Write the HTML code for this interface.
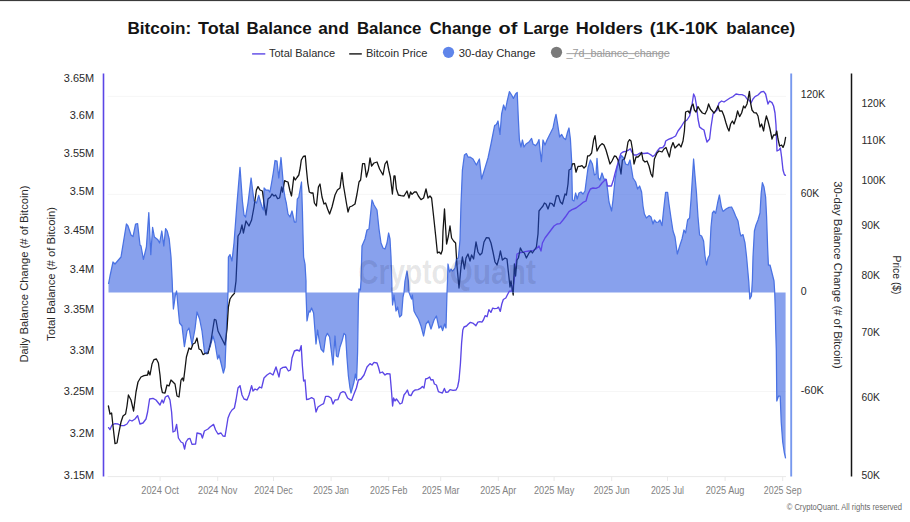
<!DOCTYPE html>
<html><head><meta charset="utf-8"><title>Bitcoin: Total Balance and Balance Change of Large Holders</title>
<style>
html,body{margin:0;padding:0;background:#fff;}
body{width:910px;height:522px;overflow:hidden;font-family:"Liberation Sans",sans-serif;}
svg{display:block;}
</style></head><body>
<svg width="910" height="522" viewBox="0 0 910 522" font-family="Liberation Sans, sans-serif">
<rect x="0" y="0" width="910" height="522" fill="#ffffff"/>
<rect x="0" y="0" width="910" height="1.1" fill="#3a3a3a"/>
<line x1="107.6" x2="786" y1="96.4" y2="96.4" stroke="#f6f6f6" stroke-width="1"/>
<line x1="107.6" x2="786" y1="194.4" y2="194.4" stroke="#f6f6f6" stroke-width="1"/>
<line x1="107.6" x2="786" y1="391.5" y2="391.5" stroke="#f6f6f6" stroke-width="1"/>
<line x1="107.6" x2="786" y1="476.6" y2="476.6" stroke="#e9e9e9" stroke-width="1"/>
<line x1="160.1" x2="160.1" y1="476.6" y2="481" stroke="#e9e9e9" stroke-width="1"/>
<text x="160.1" y="494.3" font-size="10" font-weight="normal" text-anchor="middle" fill="#828282" textLength="37.6" lengthAdjust="spacingAndGlyphs" >2024 Oct</text>
<line x1="217.7" x2="217.7" y1="476.6" y2="481" stroke="#e9e9e9" stroke-width="1"/>
<text x="217.7" y="494.3" font-size="10" font-weight="normal" text-anchor="middle" fill="#828282" textLength="39.2" lengthAdjust="spacingAndGlyphs" >2024 Nov</text>
<line x1="273.5" x2="273.5" y1="476.6" y2="481" stroke="#e9e9e9" stroke-width="1"/>
<text x="273.5" y="494.3" font-size="10" font-weight="normal" text-anchor="middle" fill="#828282" textLength="38.3" lengthAdjust="spacingAndGlyphs" >2024 Dec</text>
<line x1="331.1" x2="331.1" y1="476.6" y2="481" stroke="#e9e9e9" stroke-width="1"/>
<text x="331.1" y="494.3" font-size="10" font-weight="normal" text-anchor="middle" fill="#828282" textLength="35.6" lengthAdjust="spacingAndGlyphs" >2025 Jan</text>
<line x1="388.7" x2="388.7" y1="476.6" y2="481" stroke="#e9e9e9" stroke-width="1"/>
<text x="388.7" y="494.3" font-size="10" font-weight="normal" text-anchor="middle" fill="#828282" textLength="37.2" lengthAdjust="spacingAndGlyphs" >2025 Feb</text>
<line x1="440.7" x2="440.7" y1="476.6" y2="481" stroke="#e9e9e9" stroke-width="1"/>
<text x="440.7" y="494.3" font-size="10" font-weight="normal" text-anchor="middle" fill="#828282" textLength="37.6" lengthAdjust="spacingAndGlyphs" >2025 Mar</text>
<line x1="498.3" x2="498.3" y1="476.6" y2="481" stroke="#e9e9e9" stroke-width="1"/>
<text x="498.3" y="494.3" font-size="10" font-weight="normal" text-anchor="middle" fill="#828282" textLength="36.1" lengthAdjust="spacingAndGlyphs" >2025 Apr</text>
<line x1="554.1" x2="554.1" y1="476.6" y2="481" stroke="#e9e9e9" stroke-width="1"/>
<text x="554.1" y="494.3" font-size="10" font-weight="normal" text-anchor="middle" fill="#828282" textLength="40.3" lengthAdjust="spacingAndGlyphs" >2025 May</text>
<line x1="611.7" x2="611.7" y1="476.6" y2="481" stroke="#e9e9e9" stroke-width="1"/>
<text x="611.7" y="494.3" font-size="10" font-weight="normal" text-anchor="middle" fill="#828282" textLength="36.0" lengthAdjust="spacingAndGlyphs" >2025 Jun</text>
<line x1="667.5" x2="667.5" y1="476.6" y2="481" stroke="#e9e9e9" stroke-width="1"/>
<text x="667.5" y="494.3" font-size="10" font-weight="normal" text-anchor="middle" fill="#828282" textLength="33.1" lengthAdjust="spacingAndGlyphs" >2025 Jul</text>
<line x1="725.1" x2="725.1" y1="476.6" y2="481" stroke="#e9e9e9" stroke-width="1"/>
<text x="725.1" y="494.3" font-size="10" font-weight="normal" text-anchor="middle" fill="#828282" textLength="38.7" lengthAdjust="spacingAndGlyphs" >2025 Aug</text>
<line x1="782.7" x2="782.7" y1="476.6" y2="481" stroke="#e9e9e9" stroke-width="1"/>
<text x="782.7" y="494.3" font-size="10" font-weight="normal" text-anchor="middle" fill="#828282" textLength="37.7" lengthAdjust="spacingAndGlyphs" >2025 Sep</text>
<polygon points="108.5,292.5 108.5,284.0 110.0,276.0 113.0,262.0 115.0,264.0 121.0,257.0 126.4,224.0 128.0,226.0 131.0,235.0 133.0,236.6 135.6,224.0 137.6,223.6 140.0,245.0 141.0,246.0 143.4,259.4 146.4,247.0 148.8,212.6 150.8,254.6 152.6,227.4 154.4,237.0 157.6,239.4 159.6,243.0 161.8,231.0 163.8,246.0 165.6,228.6 167.2,231.0 169.2,239.0 171.0,257.0 172.2,281.0 172.6,292.4 173.4,309.0 175.4,295.0 176.6,291.0 178.4,311.0 179.6,323.0 182.0,326.0 184.4,346.6 187.0,331.0 189.0,328.0 192.0,345.0 195.0,329.0 197.0,312.0 199.6,319.0 202.0,331.0 204.6,353.0 207.0,354.0 210.0,347.0 213.0,336.0 215.0,343.0 217.6,359.0 219.0,355.0 221.0,363.0 223.4,373.0 225.0,367.0 226.4,331.0 227.6,301.0 228.0,292.4 228.4,257.0 230.0,254.6 232.0,261.0 234.0,243.0 237.0,203.0 240.0,167.4 242.4,201.0 244.0,215.0 245.6,217.0 248.0,203.0 251.1,178.0 254.0,201.0 256.5,203.0 258.7,195.4 260.5,202.0 262.0,207.0 263.4,210.0 264.1,188.0 265.9,190.0 268.4,190.0 269.9,192.0 271.4,184.0 273.4,172.0 275.0,160.5 277.0,161.2 278.8,178.0 281.0,157.5 282.3,172.0 283.8,190.0 285.3,199.0 286.3,203.0 288.0,214.0 290.0,217.0 292.0,211.0 294.4,222.0 296.0,222.0 297.3,199.0 298.8,197.0 301.5,182.0 302.4,210.0 303.0,235.0 303.6,257.0 305.0,264.0 306.0,281.0 306.0,292.4 307.0,321.0 309.0,311.0 310.0,312.0 311.6,308.0 313.6,313.0 316.0,344.0 317.6,330.0 319.0,339.0 321.0,349.0 323.6,352.0 325.6,337.0 327.4,333.4 329.6,337.0 333.0,365.0 335.0,336.0 336.4,356.0 338.0,357.0 340.0,347.0 342.0,341.0 344.0,333.4 345.6,335.0 347.0,358.0 348.4,376.0 350.0,388.0 351.0,393.0 354.0,382.0 355.4,374.0 356.6,380.0 357.6,352.0 358.4,301.0 359.0,289.0 360.4,290.0 361.0,281.0 362.0,246.0 365.0,239.0 367.0,230.0 369.0,229.0 372.0,200.0 374.0,205.0 377.0,210.0 379.0,229.0 381.0,243.0 383.0,248.0 385.0,249.0 387.0,243.0 388.6,233.0 390.0,239.0 391.0,257.0 391.8,281.0 392.0,292.4 392.6,305.0 394.0,295.0 396.0,311.0 397.6,307.0 399.6,317.0 401.6,315.0 403.0,297.0 404.0,292.4 405.0,281.0 407.0,271.0 408.4,281.0 409.0,292.4 410.0,295.0 411.6,299.0 412.4,295.0 414.0,311.0 416.0,315.0 418.4,319.0 421.0,326.0 423.6,336.0 426.0,324.0 428.4,321.0 431.0,329.0 434.0,320.0 436.4,316.0 439.0,328.0 441.0,326.0 442.6,330.6 444.6,324.0 446.0,328.0 447.0,292.4 447.5,281.0 448.0,264.0 449.6,272.0 451.0,269.0 452.4,271.0 453.6,270.0 455.0,268.0 456.4,259.0 458.4,258.0 460.0,240.0 461.0,204.0 462.4,170.0 464.4,155.0 466.4,153.6 468.0,157.0 470.0,157.0 473.0,159.0 476.4,165.0 479.4,159.0 481.6,179.0 485.0,168.0 488.0,158.0 491.0,144.0 494.6,125.6 496.4,124.4 498.0,121.0 500.0,134.4 501.6,114.0 503.6,105.0 505.4,110.0 507.0,102.0 509.4,91.6 511.6,95.0 513.4,98.4 515.6,94.0 517.2,92.4 518.4,120.0 519.4,140.0 521.0,147.0 522.4,140.0 524.0,147.0 526.0,144.0 529.0,142.0 531.6,138.4 533.0,144.0 535.6,145.6 537.6,143.0 539.0,139.6 540.0,150.0 541.4,161.6 543.0,140.0 545.0,145.0 547.0,140.0 550.0,134.0 553.0,128.0 554.6,120.0 556.0,114.4 557.6,124.0 559.6,137.0 561.6,134.4 563.6,138.0 565.6,139.6 567.6,132.0 569.0,128.0 570.4,139.0 571.6,160.0 572.4,200.0 574.0,201.0 575.6,193.0 577.2,199.0 579.0,193.0 581.0,192.0 583.0,194.0 585.0,191.0 586.4,180.0 588.0,168.0 590.4,160.0 592.4,164.0 594.4,175.0 596.0,174.0 597.0,158.4 598.4,178.0 600.0,180.0 602.0,173.0 604.0,179.0 606.0,179.0 607.6,190.0 609.0,202.0 611.6,211.0 613.0,200.0 615.0,180.0 617.0,168.0 619.0,160.0 621.6,155.6 623.6,158.0 625.6,164.0 628.0,165.0 630.0,160.0 631.4,168.0 633.0,178.0 635.6,182.0 637.6,189.0 639.6,186.0 641.6,192.0 643.0,206.0 644.4,214.0 646.4,218.0 649.0,215.6 651.0,217.0 653.0,224.0 654.4,220.0 656.4,222.4 658.4,222.0 660.0,220.0 662.0,225.6 663.6,210.0 665.6,192.4 667.6,192.4 669.0,204.0 671.0,218.0 673.0,231.0 675.0,237.0 677.3,254.0 680.0,245.0 682.0,239.0 684.0,230.0 685.6,233.0 687.6,220.0 689.6,218.0 691.0,200.0 692.4,178.0 693.6,159.0 695.0,176.0 696.4,192.0 698.0,217.0 699.6,235.0 701.6,236.0 703.6,241.0 705.0,256.0 706.6,265.0 708.0,258.0 709.6,255.0 711.0,227.0 712.4,213.0 714.0,211.0 715.6,213.4 717.6,203.0 719.4,195.0 721.4,207.0 723.0,211.4 726.0,209.0 729.0,207.4 731.6,207.0 733.6,211.0 735.6,216.0 738.0,221.0 740.0,233.0 741.0,236.0 743.0,234.6 745.0,243.0 746.6,257.0 748.0,273.0 748.8,282.0 749.8,299.0 751.4,296.0 752.4,280.0 753.0,257.0 754.4,231.0 756.0,225.0 758.0,220.0 760.0,213.0 761.2,193.0 762.4,182.6 764.0,187.0 765.6,197.0 766.6,217.0 767.6,247.0 768.4,265.0 770.0,265.0 772.0,273.0 774.0,281.0 774.7,292.3 775.3,310.0 775.7,330.0 776.3,350.0 776.6,380.0 776.8,401.0 778.5,396.0 780.2,396.0 781.2,422.0 782.7,442.0 784.2,452.0 785.6,458.4 785.6,292.5" fill="rgb(60,102,226)" fill-opacity="0.61" stroke="none"/>
<polyline points="108.5,284.0 110.0,276.0 113.0,262.0 115.0,264.0 121.0,257.0 126.4,224.0 128.0,226.0 131.0,235.0 133.0,236.6 135.6,224.0 137.6,223.6 140.0,245.0 141.0,246.0 143.4,259.4 146.4,247.0 148.8,212.6 150.8,254.6 152.6,227.4 154.4,237.0 157.6,239.4 159.6,243.0 161.8,231.0 163.8,246.0 165.6,228.6 167.2,231.0 169.2,239.0 171.0,257.0 172.2,281.0 172.6,292.4 173.4,309.0 175.4,295.0 176.6,291.0 178.4,311.0 179.6,323.0 182.0,326.0 184.4,346.6 187.0,331.0 189.0,328.0 192.0,345.0 195.0,329.0 197.0,312.0 199.6,319.0 202.0,331.0 204.6,353.0 207.0,354.0 210.0,347.0 213.0,336.0 215.0,343.0 217.6,359.0 219.0,355.0 221.0,363.0 223.4,373.0 225.0,367.0 226.4,331.0 227.6,301.0 228.0,292.4 228.4,257.0 230.0,254.6 232.0,261.0 234.0,243.0 237.0,203.0 240.0,167.4 242.4,201.0 244.0,215.0 245.6,217.0 248.0,203.0 251.1,178.0 254.0,201.0 256.5,203.0 258.7,195.4 260.5,202.0 262.0,207.0 263.4,210.0 264.1,188.0 265.9,190.0 268.4,190.0 269.9,192.0 271.4,184.0 273.4,172.0 275.0,160.5 277.0,161.2 278.8,178.0 281.0,157.5 282.3,172.0 283.8,190.0 285.3,199.0 286.3,203.0 288.0,214.0 290.0,217.0 292.0,211.0 294.4,222.0 296.0,222.0 297.3,199.0 298.8,197.0 301.5,182.0 302.4,210.0 303.0,235.0 303.6,257.0 305.0,264.0 306.0,281.0 306.0,292.4 307.0,321.0 309.0,311.0 310.0,312.0 311.6,308.0 313.6,313.0 316.0,344.0 317.6,330.0 319.0,339.0 321.0,349.0 323.6,352.0 325.6,337.0 327.4,333.4 329.6,337.0 333.0,365.0 335.0,336.0 336.4,356.0 338.0,357.0 340.0,347.0 342.0,341.0 344.0,333.4 345.6,335.0 347.0,358.0 348.4,376.0 350.0,388.0 351.0,393.0 354.0,382.0 355.4,374.0 356.6,380.0 357.6,352.0 358.4,301.0 359.0,289.0 360.4,290.0 361.0,281.0 362.0,246.0 365.0,239.0 367.0,230.0 369.0,229.0 372.0,200.0 374.0,205.0 377.0,210.0 379.0,229.0 381.0,243.0 383.0,248.0 385.0,249.0 387.0,243.0 388.6,233.0 390.0,239.0 391.0,257.0 391.8,281.0 392.0,292.4 392.6,305.0 394.0,295.0 396.0,311.0 397.6,307.0 399.6,317.0 401.6,315.0 403.0,297.0 404.0,292.4 405.0,281.0 407.0,271.0 408.4,281.0 409.0,292.4 410.0,295.0 411.6,299.0 412.4,295.0 414.0,311.0 416.0,315.0 418.4,319.0 421.0,326.0 423.6,336.0 426.0,324.0 428.4,321.0 431.0,329.0 434.0,320.0 436.4,316.0 439.0,328.0 441.0,326.0 442.6,330.6 444.6,324.0 446.0,328.0 447.0,292.4 447.5,281.0 448.0,264.0 449.6,272.0 451.0,269.0 452.4,271.0 453.6,270.0 455.0,268.0 456.4,259.0 458.4,258.0 460.0,240.0 461.0,204.0 462.4,170.0 464.4,155.0 466.4,153.6 468.0,157.0 470.0,157.0 473.0,159.0 476.4,165.0 479.4,159.0 481.6,179.0 485.0,168.0 488.0,158.0 491.0,144.0 494.6,125.6 496.4,124.4 498.0,121.0 500.0,134.4 501.6,114.0 503.6,105.0 505.4,110.0 507.0,102.0 509.4,91.6 511.6,95.0 513.4,98.4 515.6,94.0 517.2,92.4 518.4,120.0 519.4,140.0 521.0,147.0 522.4,140.0 524.0,147.0 526.0,144.0 529.0,142.0 531.6,138.4 533.0,144.0 535.6,145.6 537.6,143.0 539.0,139.6 540.0,150.0 541.4,161.6 543.0,140.0 545.0,145.0 547.0,140.0 550.0,134.0 553.0,128.0 554.6,120.0 556.0,114.4 557.6,124.0 559.6,137.0 561.6,134.4 563.6,138.0 565.6,139.6 567.6,132.0 569.0,128.0 570.4,139.0 571.6,160.0 572.4,200.0 574.0,201.0 575.6,193.0 577.2,199.0 579.0,193.0 581.0,192.0 583.0,194.0 585.0,191.0 586.4,180.0 588.0,168.0 590.4,160.0 592.4,164.0 594.4,175.0 596.0,174.0 597.0,158.4 598.4,178.0 600.0,180.0 602.0,173.0 604.0,179.0 606.0,179.0 607.6,190.0 609.0,202.0 611.6,211.0 613.0,200.0 615.0,180.0 617.0,168.0 619.0,160.0 621.6,155.6 623.6,158.0 625.6,164.0 628.0,165.0 630.0,160.0 631.4,168.0 633.0,178.0 635.6,182.0 637.6,189.0 639.6,186.0 641.6,192.0 643.0,206.0 644.4,214.0 646.4,218.0 649.0,215.6 651.0,217.0 653.0,224.0 654.4,220.0 656.4,222.4 658.4,222.0 660.0,220.0 662.0,225.6 663.6,210.0 665.6,192.4 667.6,192.4 669.0,204.0 671.0,218.0 673.0,231.0 675.0,237.0 677.3,254.0 680.0,245.0 682.0,239.0 684.0,230.0 685.6,233.0 687.6,220.0 689.6,218.0 691.0,200.0 692.4,178.0 693.6,159.0 695.0,176.0 696.4,192.0 698.0,217.0 699.6,235.0 701.6,236.0 703.6,241.0 705.0,256.0 706.6,265.0 708.0,258.0 709.6,255.0 711.0,227.0 712.4,213.0 714.0,211.0 715.6,213.4 717.6,203.0 719.4,195.0 721.4,207.0 723.0,211.4 726.0,209.0 729.0,207.4 731.6,207.0 733.6,211.0 735.6,216.0 738.0,221.0 740.0,233.0 741.0,236.0 743.0,234.6 745.0,243.0 746.6,257.0 748.0,273.0 748.8,282.0 749.8,299.0 751.4,296.0 752.4,280.0 753.0,257.0 754.4,231.0 756.0,225.0 758.0,220.0 760.0,213.0 761.2,193.0 762.4,182.6 764.0,187.0 765.6,197.0 766.6,217.0 767.6,247.0 768.4,265.0 770.0,265.0 772.0,273.0 774.0,281.0 774.7,292.3 775.3,310.0 775.7,330.0 776.3,350.0 776.6,380.0 776.8,401.0 778.5,396.0 780.2,396.0 781.2,422.0 782.7,442.0 784.2,452.0 785.6,458.4" fill="none" stroke="#4a72e3" stroke-width="1.25" stroke-linejoin="round"/>
<polyline points="108.6,427.6 110.0,429.6 112.0,425.0 115.0,423.6 118.0,424.0 121.0,425.6 124.0,425.6 127.0,424.0 129.6,420.0 132.0,421.0 135.0,419.0 137.6,415.6 140.0,424.0 143.0,423.0 146.0,419.0 147.6,412.0 149.6,399.0 153.0,398.4 156.0,400.0 158.4,403.0 160.0,405.0 162.0,400.0 163.4,403.0 165.4,397.0 168.0,395.6 170.0,400.0 171.6,412.0 173.0,432.0 175.0,431.0 176.6,424.4 178.4,438.0 181.0,442.0 183.0,443.0 184.6,449.0 186.0,442.0 188.0,439.0 190.0,438.4 192.0,444.4 195.6,444.0 197.0,433.0 201.0,434.0 202.4,438.0 204.4,431.0 208.0,429.0 210.0,427.0 213.6,424.4 215.6,430.0 218.0,434.0 221.0,433.0 223.0,436.0 225.0,436.4 226.4,428.0 228.0,418.0 230.0,413.0 232.0,410.0 234.4,408.0 236.0,400.0 238.0,388.0 240.0,385.6 242.0,395.0 244.0,399.0 247.0,400.0 249.0,395.0 251.6,385.6 253.0,391.0 255.0,389.0 257.0,390.0 259.6,387.0 261.6,388.0 264.0,378.0 267.0,375.0 270.0,373.0 273.0,375.0 276.0,367.0 279.0,377.0 280.4,369.0 283.0,367.4 286.0,367.0 288.4,371.0 290.4,370.0 292.0,358.0 294.4,351.0 297.0,350.0 299.6,351.0 301.2,345.6 302.4,366.0 303.6,381.0 305.0,380.0 306.6,399.6 309.0,399.0 311.6,397.6 314.0,399.0 316.0,412.0 318.0,407.0 321.0,405.0 323.6,403.6 325.6,396.4 328.4,396.4 331.0,398.0 333.0,404.0 335.0,400.0 338.0,399.6 340.4,393.0 343.0,391.6 345.0,392.4 347.6,398.0 350.0,399.6 351.6,400.4 354.0,394.0 356.4,388.0 358.4,380.0 361.0,379.0 364.0,375.0 367.0,367.0 370.0,363.6 372.0,365.0 374.0,362.4 377.0,363.0 378.4,367.0 380.0,373.0 382.4,372.0 385.0,375.0 387.0,373.6 390.0,374.0 391.4,390.0 392.6,406.0 393.6,398.0 395.0,401.0 396.4,399.0 398.0,401.0 400.0,404.0 402.0,403.0 404.0,395.0 406.0,392.4 407.4,390.0 409.0,395.0 411.0,395.6 413.0,391.6 415.0,390.0 418.0,389.6 420.4,388.4 422.4,386.4 424.0,388.0 425.6,379.0 427.6,378.4 429.6,377.0 431.0,380.0 433.0,379.6 434.4,384.0 436.4,385.0 438.4,391.6 440.4,392.4 442.4,393.0 444.4,388.4 446.0,392.4 448.0,392.0 450.0,389.6 453.0,390.4 456.0,390.0 457.6,387.0 459.0,380.0 460.4,364.0 461.6,343.0 462.8,330.0 464.0,327.0 466.5,326.0 468.4,324.0 470.4,322.4 473.4,323.4 475.9,325.7 477.9,322.1 479.9,321.7 481.9,322.1 483.4,320.0 485.1,315.7 487.1,316.7 488.9,309.7 490.9,312.4 492.7,308.1 494.4,308.7 496.9,308.4 498.4,307.1 500.3,311.4 501.8,304.0 503.3,299.5 505.8,298.0 507.3,295.0 509.3,291.2 511.8,291.0 513.6,284.0 515.6,268.0 517.0,254.0 519.0,253.0 522.0,252.4 525.0,251.6 529.0,251.0 532.0,251.0 536.0,249.0 539.0,246.0 541.0,251.0 542.4,243.0 545.0,238.0 548.0,234.0 551.0,230.0 554.0,226.0 557.0,224.0 560.0,223.6 563.0,220.0 566.0,216.0 569.0,211.6 572.0,209.6 576.0,208.0 580.0,205.0 583.0,202.4 586.0,201.0 588.0,194.0 590.4,189.0 593.0,188.0 596.0,188.4 599.0,187.0 602.0,183.0 605.0,180.0 606.3,179.7 607.4,186.0 611.4,186.0 613.4,180.0 615.4,172.0 617.4,165.0 619.4,158.0 620.9,153.5 622.9,152.0 626.4,151.2 628.9,149.8 630.3,148.8 631.8,152.0 633.8,155.0 636.8,155.0 639.8,153.2 643.8,153.5 647.8,153.0 650.8,154.8 652.8,156.5 654.8,155.0 657.3,151.0 659.8,148.0 662.8,147.5 664.7,145.0 665.7,141.0 668.4,139.4 672.0,138.0 675.6,136.0 678.0,131.0 681.0,127.0 684.0,122.0 687.0,120.0 689.6,116.0 692.0,105.0 693.6,94.0 695.0,97.0 696.4,105.0 698.0,119.0 699.6,127.0 701.6,128.6 704.0,130.0 705.6,137.0 707.0,142.0 709.6,139.0 711.0,127.0 713.0,114.0 715.0,112.0 717.0,110.0 719.0,103.0 721.6,101.0 724.0,102.0 727.0,100.0 730.0,98.0 733.0,96.6 736.0,94.0 739.0,94.6 742.0,94.6 745.0,96.0 747.0,99.0 749.0,100.0 751.0,103.0 753.0,99.0 755.0,96.6 758.0,95.0 761.0,92.0 763.6,91.4 765.6,94.0 767.0,100.0 768.0,104.0 769.6,101.0 772.0,102.6 773.6,106.0 775.0,113.0 776.0,125.0 777.0,151.0 779.0,150.0 780.4,148.0 781.6,157.0 783.0,170.0 784.4,174.6 785.4,175.4" fill="none" stroke="#5b46e6" stroke-width="1.35" stroke-linejoin="round" stroke-linecap="round"/>
<clipPath id="ac"><path d="M108.5,292.5 L108.5,284.0 L110.0,276.0 L113.0,262.0 L115.0,264.0 L121.0,257.0 L126.4,224.0 L128.0,226.0 L131.0,235.0 L133.0,236.6 L135.6,224.0 L137.6,223.6 L140.0,245.0 L141.0,246.0 L143.4,259.4 L146.4,247.0 L148.8,212.6 L150.8,254.6 L152.6,227.4 L154.4,237.0 L157.6,239.4 L159.6,243.0 L161.8,231.0 L163.8,246.0 L165.6,228.6 L167.2,231.0 L169.2,239.0 L171.0,257.0 L172.2,281.0 L172.6,292.4 L173.4,309.0 L175.4,295.0 L176.6,291.0 L178.4,311.0 L179.6,323.0 L182.0,326.0 L184.4,346.6 L187.0,331.0 L189.0,328.0 L192.0,345.0 L195.0,329.0 L197.0,312.0 L199.6,319.0 L202.0,331.0 L204.6,353.0 L207.0,354.0 L210.0,347.0 L213.0,336.0 L215.0,343.0 L217.6,359.0 L219.0,355.0 L221.0,363.0 L223.4,373.0 L225.0,367.0 L226.4,331.0 L227.6,301.0 L228.0,292.4 L228.4,257.0 L230.0,254.6 L232.0,261.0 L234.0,243.0 L237.0,203.0 L240.0,167.4 L242.4,201.0 L244.0,215.0 L245.6,217.0 L248.0,203.0 L251.1,178.0 L254.0,201.0 L256.5,203.0 L258.7,195.4 L260.5,202.0 L262.0,207.0 L263.4,210.0 L264.1,188.0 L265.9,190.0 L268.4,190.0 L269.9,192.0 L271.4,184.0 L273.4,172.0 L275.0,160.5 L277.0,161.2 L278.8,178.0 L281.0,157.5 L282.3,172.0 L283.8,190.0 L285.3,199.0 L286.3,203.0 L288.0,214.0 L290.0,217.0 L292.0,211.0 L294.4,222.0 L296.0,222.0 L297.3,199.0 L298.8,197.0 L301.5,182.0 L302.4,210.0 L303.0,235.0 L303.6,257.0 L305.0,264.0 L306.0,281.0 L306.0,292.4 L307.0,321.0 L309.0,311.0 L310.0,312.0 L311.6,308.0 L313.6,313.0 L316.0,344.0 L317.6,330.0 L319.0,339.0 L321.0,349.0 L323.6,352.0 L325.6,337.0 L327.4,333.4 L329.6,337.0 L333.0,365.0 L335.0,336.0 L336.4,356.0 L338.0,357.0 L340.0,347.0 L342.0,341.0 L344.0,333.4 L345.6,335.0 L347.0,358.0 L348.4,376.0 L350.0,388.0 L351.0,393.0 L354.0,382.0 L355.4,374.0 L356.6,380.0 L357.6,352.0 L358.4,301.0 L359.0,289.0 L360.4,290.0 L361.0,281.0 L362.0,246.0 L365.0,239.0 L367.0,230.0 L369.0,229.0 L372.0,200.0 L374.0,205.0 L377.0,210.0 L379.0,229.0 L381.0,243.0 L383.0,248.0 L385.0,249.0 L387.0,243.0 L388.6,233.0 L390.0,239.0 L391.0,257.0 L391.8,281.0 L392.0,292.4 L392.6,305.0 L394.0,295.0 L396.0,311.0 L397.6,307.0 L399.6,317.0 L401.6,315.0 L403.0,297.0 L404.0,292.4 L405.0,281.0 L407.0,271.0 L408.4,281.0 L409.0,292.4 L410.0,295.0 L411.6,299.0 L412.4,295.0 L414.0,311.0 L416.0,315.0 L418.4,319.0 L421.0,326.0 L423.6,336.0 L426.0,324.0 L428.4,321.0 L431.0,329.0 L434.0,320.0 L436.4,316.0 L439.0,328.0 L441.0,326.0 L442.6,330.6 L444.6,324.0 L446.0,328.0 L447.0,292.4 L447.5,281.0 L448.0,264.0 L449.6,272.0 L451.0,269.0 L452.4,271.0 L453.6,270.0 L455.0,268.0 L456.4,259.0 L458.4,258.0 L460.0,240.0 L461.0,204.0 L462.4,170.0 L464.4,155.0 L466.4,153.6 L468.0,157.0 L470.0,157.0 L473.0,159.0 L476.4,165.0 L479.4,159.0 L481.6,179.0 L485.0,168.0 L488.0,158.0 L491.0,144.0 L494.6,125.6 L496.4,124.4 L498.0,121.0 L500.0,134.4 L501.6,114.0 L503.6,105.0 L505.4,110.0 L507.0,102.0 L509.4,91.6 L511.6,95.0 L513.4,98.4 L515.6,94.0 L517.2,92.4 L518.4,120.0 L519.4,140.0 L521.0,147.0 L522.4,140.0 L524.0,147.0 L526.0,144.0 L529.0,142.0 L531.6,138.4 L533.0,144.0 L535.6,145.6 L537.6,143.0 L539.0,139.6 L540.0,150.0 L541.4,161.6 L543.0,140.0 L545.0,145.0 L547.0,140.0 L550.0,134.0 L553.0,128.0 L554.6,120.0 L556.0,114.4 L557.6,124.0 L559.6,137.0 L561.6,134.4 L563.6,138.0 L565.6,139.6 L567.6,132.0 L569.0,128.0 L570.4,139.0 L571.6,160.0 L572.4,200.0 L574.0,201.0 L575.6,193.0 L577.2,199.0 L579.0,193.0 L581.0,192.0 L583.0,194.0 L585.0,191.0 L586.4,180.0 L588.0,168.0 L590.4,160.0 L592.4,164.0 L594.4,175.0 L596.0,174.0 L597.0,158.4 L598.4,178.0 L600.0,180.0 L602.0,173.0 L604.0,179.0 L606.0,179.0 L607.6,190.0 L609.0,202.0 L611.6,211.0 L613.0,200.0 L615.0,180.0 L617.0,168.0 L619.0,160.0 L621.6,155.6 L623.6,158.0 L625.6,164.0 L628.0,165.0 L630.0,160.0 L631.4,168.0 L633.0,178.0 L635.6,182.0 L637.6,189.0 L639.6,186.0 L641.6,192.0 L643.0,206.0 L644.4,214.0 L646.4,218.0 L649.0,215.6 L651.0,217.0 L653.0,224.0 L654.4,220.0 L656.4,222.4 L658.4,222.0 L660.0,220.0 L662.0,225.6 L663.6,210.0 L665.6,192.4 L667.6,192.4 L669.0,204.0 L671.0,218.0 L673.0,231.0 L675.0,237.0 L677.3,254.0 L680.0,245.0 L682.0,239.0 L684.0,230.0 L685.6,233.0 L687.6,220.0 L689.6,218.0 L691.0,200.0 L692.4,178.0 L693.6,159.0 L695.0,176.0 L696.4,192.0 L698.0,217.0 L699.6,235.0 L701.6,236.0 L703.6,241.0 L705.0,256.0 L706.6,265.0 L708.0,258.0 L709.6,255.0 L711.0,227.0 L712.4,213.0 L714.0,211.0 L715.6,213.4 L717.6,203.0 L719.4,195.0 L721.4,207.0 L723.0,211.4 L726.0,209.0 L729.0,207.4 L731.6,207.0 L733.6,211.0 L735.6,216.0 L738.0,221.0 L740.0,233.0 L741.0,236.0 L743.0,234.6 L745.0,243.0 L746.6,257.0 L748.0,273.0 L748.8,282.0 L749.8,299.0 L751.4,296.0 L752.4,280.0 L753.0,257.0 L754.4,231.0 L756.0,225.0 L758.0,220.0 L760.0,213.0 L761.2,193.0 L762.4,182.6 L764.0,187.0 L765.6,197.0 L766.6,217.0 L767.6,247.0 L768.4,265.0 L770.0,265.0 L772.0,273.0 L774.0,281.0 L774.7,292.3 L775.3,310.0 L775.7,330.0 L776.3,350.0 L776.6,380.0 L776.8,401.0 L778.5,396.0 L780.2,396.0 L781.2,422.0 L782.7,442.0 L784.2,452.0 L785.6,458.4 L785.6,292.5Z"/></clipPath>
<clipPath id="nac"><path clip-rule="evenodd" d="M0,0H910V522H0Z M108.5,292.5 L108.5,284.0 L110.0,276.0 L113.0,262.0 L115.0,264.0 L121.0,257.0 L126.4,224.0 L128.0,226.0 L131.0,235.0 L133.0,236.6 L135.6,224.0 L137.6,223.6 L140.0,245.0 L141.0,246.0 L143.4,259.4 L146.4,247.0 L148.8,212.6 L150.8,254.6 L152.6,227.4 L154.4,237.0 L157.6,239.4 L159.6,243.0 L161.8,231.0 L163.8,246.0 L165.6,228.6 L167.2,231.0 L169.2,239.0 L171.0,257.0 L172.2,281.0 L172.6,292.4 L173.4,309.0 L175.4,295.0 L176.6,291.0 L178.4,311.0 L179.6,323.0 L182.0,326.0 L184.4,346.6 L187.0,331.0 L189.0,328.0 L192.0,345.0 L195.0,329.0 L197.0,312.0 L199.6,319.0 L202.0,331.0 L204.6,353.0 L207.0,354.0 L210.0,347.0 L213.0,336.0 L215.0,343.0 L217.6,359.0 L219.0,355.0 L221.0,363.0 L223.4,373.0 L225.0,367.0 L226.4,331.0 L227.6,301.0 L228.0,292.4 L228.4,257.0 L230.0,254.6 L232.0,261.0 L234.0,243.0 L237.0,203.0 L240.0,167.4 L242.4,201.0 L244.0,215.0 L245.6,217.0 L248.0,203.0 L251.1,178.0 L254.0,201.0 L256.5,203.0 L258.7,195.4 L260.5,202.0 L262.0,207.0 L263.4,210.0 L264.1,188.0 L265.9,190.0 L268.4,190.0 L269.9,192.0 L271.4,184.0 L273.4,172.0 L275.0,160.5 L277.0,161.2 L278.8,178.0 L281.0,157.5 L282.3,172.0 L283.8,190.0 L285.3,199.0 L286.3,203.0 L288.0,214.0 L290.0,217.0 L292.0,211.0 L294.4,222.0 L296.0,222.0 L297.3,199.0 L298.8,197.0 L301.5,182.0 L302.4,210.0 L303.0,235.0 L303.6,257.0 L305.0,264.0 L306.0,281.0 L306.0,292.4 L307.0,321.0 L309.0,311.0 L310.0,312.0 L311.6,308.0 L313.6,313.0 L316.0,344.0 L317.6,330.0 L319.0,339.0 L321.0,349.0 L323.6,352.0 L325.6,337.0 L327.4,333.4 L329.6,337.0 L333.0,365.0 L335.0,336.0 L336.4,356.0 L338.0,357.0 L340.0,347.0 L342.0,341.0 L344.0,333.4 L345.6,335.0 L347.0,358.0 L348.4,376.0 L350.0,388.0 L351.0,393.0 L354.0,382.0 L355.4,374.0 L356.6,380.0 L357.6,352.0 L358.4,301.0 L359.0,289.0 L360.4,290.0 L361.0,281.0 L362.0,246.0 L365.0,239.0 L367.0,230.0 L369.0,229.0 L372.0,200.0 L374.0,205.0 L377.0,210.0 L379.0,229.0 L381.0,243.0 L383.0,248.0 L385.0,249.0 L387.0,243.0 L388.6,233.0 L390.0,239.0 L391.0,257.0 L391.8,281.0 L392.0,292.4 L392.6,305.0 L394.0,295.0 L396.0,311.0 L397.6,307.0 L399.6,317.0 L401.6,315.0 L403.0,297.0 L404.0,292.4 L405.0,281.0 L407.0,271.0 L408.4,281.0 L409.0,292.4 L410.0,295.0 L411.6,299.0 L412.4,295.0 L414.0,311.0 L416.0,315.0 L418.4,319.0 L421.0,326.0 L423.6,336.0 L426.0,324.0 L428.4,321.0 L431.0,329.0 L434.0,320.0 L436.4,316.0 L439.0,328.0 L441.0,326.0 L442.6,330.6 L444.6,324.0 L446.0,328.0 L447.0,292.4 L447.5,281.0 L448.0,264.0 L449.6,272.0 L451.0,269.0 L452.4,271.0 L453.6,270.0 L455.0,268.0 L456.4,259.0 L458.4,258.0 L460.0,240.0 L461.0,204.0 L462.4,170.0 L464.4,155.0 L466.4,153.6 L468.0,157.0 L470.0,157.0 L473.0,159.0 L476.4,165.0 L479.4,159.0 L481.6,179.0 L485.0,168.0 L488.0,158.0 L491.0,144.0 L494.6,125.6 L496.4,124.4 L498.0,121.0 L500.0,134.4 L501.6,114.0 L503.6,105.0 L505.4,110.0 L507.0,102.0 L509.4,91.6 L511.6,95.0 L513.4,98.4 L515.6,94.0 L517.2,92.4 L518.4,120.0 L519.4,140.0 L521.0,147.0 L522.4,140.0 L524.0,147.0 L526.0,144.0 L529.0,142.0 L531.6,138.4 L533.0,144.0 L535.6,145.6 L537.6,143.0 L539.0,139.6 L540.0,150.0 L541.4,161.6 L543.0,140.0 L545.0,145.0 L547.0,140.0 L550.0,134.0 L553.0,128.0 L554.6,120.0 L556.0,114.4 L557.6,124.0 L559.6,137.0 L561.6,134.4 L563.6,138.0 L565.6,139.6 L567.6,132.0 L569.0,128.0 L570.4,139.0 L571.6,160.0 L572.4,200.0 L574.0,201.0 L575.6,193.0 L577.2,199.0 L579.0,193.0 L581.0,192.0 L583.0,194.0 L585.0,191.0 L586.4,180.0 L588.0,168.0 L590.4,160.0 L592.4,164.0 L594.4,175.0 L596.0,174.0 L597.0,158.4 L598.4,178.0 L600.0,180.0 L602.0,173.0 L604.0,179.0 L606.0,179.0 L607.6,190.0 L609.0,202.0 L611.6,211.0 L613.0,200.0 L615.0,180.0 L617.0,168.0 L619.0,160.0 L621.6,155.6 L623.6,158.0 L625.6,164.0 L628.0,165.0 L630.0,160.0 L631.4,168.0 L633.0,178.0 L635.6,182.0 L637.6,189.0 L639.6,186.0 L641.6,192.0 L643.0,206.0 L644.4,214.0 L646.4,218.0 L649.0,215.6 L651.0,217.0 L653.0,224.0 L654.4,220.0 L656.4,222.4 L658.4,222.0 L660.0,220.0 L662.0,225.6 L663.6,210.0 L665.6,192.4 L667.6,192.4 L669.0,204.0 L671.0,218.0 L673.0,231.0 L675.0,237.0 L677.3,254.0 L680.0,245.0 L682.0,239.0 L684.0,230.0 L685.6,233.0 L687.6,220.0 L689.6,218.0 L691.0,200.0 L692.4,178.0 L693.6,159.0 L695.0,176.0 L696.4,192.0 L698.0,217.0 L699.6,235.0 L701.6,236.0 L703.6,241.0 L705.0,256.0 L706.6,265.0 L708.0,258.0 L709.6,255.0 L711.0,227.0 L712.4,213.0 L714.0,211.0 L715.6,213.4 L717.6,203.0 L719.4,195.0 L721.4,207.0 L723.0,211.4 L726.0,209.0 L729.0,207.4 L731.6,207.0 L733.6,211.0 L735.6,216.0 L738.0,221.0 L740.0,233.0 L741.0,236.0 L743.0,234.6 L745.0,243.0 L746.6,257.0 L748.0,273.0 L748.8,282.0 L749.8,299.0 L751.4,296.0 L752.4,280.0 L753.0,257.0 L754.4,231.0 L756.0,225.0 L758.0,220.0 L760.0,213.0 L761.2,193.0 L762.4,182.6 L764.0,187.0 L765.6,197.0 L766.6,217.0 L767.6,247.0 L768.4,265.0 L770.0,265.0 L772.0,273.0 L774.0,281.0 L774.7,292.3 L775.3,310.0 L775.7,330.0 L776.3,350.0 L776.6,380.0 L776.8,401.0 L778.5,396.0 L780.2,396.0 L781.2,422.0 L782.7,442.0 L784.2,452.0 L785.6,458.4 L785.6,292.5Z"/></clipPath>
<polyline points="108.4,406.0 110.0,414.0 111.6,413.0 113.0,426.0 115.0,443.6 117.0,443.0 119.0,432.0 121.0,422.0 123.0,416.0 125.6,414.0 127.0,406.0 128.4,395.0 131.0,400.0 133.6,411.0 136.0,392.0 138.0,382.0 141.0,377.0 144.0,375.6 147.6,375.0 148.4,371.0 150.0,375.0 152.0,364.0 154.0,359.6 156.4,359.0 158.4,363.0 160.0,375.0 161.0,386.0 162.4,392.6 165.0,393.0 167.0,385.0 169.0,386.0 171.0,380.0 173.0,382.0 175.0,384.0 177.0,396.0 179.0,397.0 181.0,380.0 182.4,378.0 183.5,381.0 185.0,369.0 186.4,357.0 189.0,348.0 191.0,349.4 193.0,344.0 195.0,343.0 197.0,338.0 199.0,349.0 201.0,350.0 203.0,354.6 206.0,353.0 208.0,353.4 211.0,341.0 213.0,328.0 214.4,319.4 216.0,320.0 218.0,331.0 221.0,337.0 225.0,345.0 227.0,329.0 228.4,307.0 230.0,299.0 232.0,296.0 234.4,293.4 236.0,281.0 238.0,236.0 240.0,233.0 242.0,225.0 243.4,233.0 246.0,221.0 249.0,226.0 251.6,220.0 254.0,207.0 256.4,190.0 258.0,186.6 260.0,190.0 262.4,191.0 264.0,203.0 266.0,215.0 268.0,199.0 270.4,197.0 272.0,194.0 274.0,196.0 275.6,195.0 277.6,198.6 279.6,198.0 281.6,187.0 282.6,192.0 284.6,180.6 286.0,181.4 288.0,182.0 290.0,191.0 291.5,196.0 293.8,177.0 295.3,180.0 297.0,177.5 298.8,175.0 300.2,168.0 301.3,160.0 303.3,156.5 305.3,156.0 306.5,170.0 307.8,183.0 309.3,192.0 311.0,193.0 313.0,193.0 314.4,203.0 316.4,206.0 318.4,187.0 320.0,184.0 322.0,197.0 324.0,204.0 325.6,203.0 327.6,209.0 329.6,214.0 332.0,207.0 335.0,195.0 337.4,190.0 340.0,188.0 342.0,172.6 343.4,185.0 344.4,191.0 346.4,203.0 348.0,212.0 349.6,207.0 352.0,206.0 355.0,204.0 357.0,194.0 359.0,182.0 360.6,180.0 362.6,163.6 364.6,163.6 366.4,177.0 368.4,170.0 370.0,158.0 371.6,166.0 374.0,163.0 377.0,162.0 379.6,169.0 383.0,175.0 385.0,164.0 387.0,161.0 389.0,171.0 390.4,177.0 392.4,194.0 394.0,176.0 395.0,176.0 396.4,189.0 398.4,195.0 401.0,195.6 404.0,196.0 407.0,191.0 409.0,198.0 410.6,192.0 412.0,194.4 414.4,192.0 416.4,192.0 418.4,196.0 421.0,199.6 423.6,198.0 426.0,189.0 428.0,198.0 430.0,196.0 431.6,198.0 434.0,220.0 436.0,239.0 437.4,253.0 439.0,252.0 441.0,254.0 442.4,250.0 443.0,231.0 444.5,209.0 446.6,244.0 448.4,236.0 450.0,226.0 451.6,238.0 453.6,241.0 455.6,243.0 457.0,266.0 459.0,288.0 461.0,267.0 462.4,257.0 464.4,269.0 466.0,258.0 468.0,254.0 470.0,261.0 471.6,255.0 473.6,259.0 476.0,242.0 478.0,252.0 480.0,255.0 482.0,253.0 484.0,242.0 486.4,237.6 489.0,238.0 491.0,243.0 493.0,252.0 495.0,262.0 497.0,265.0 499.0,258.0 500.4,251.0 502.4,260.0 505.0,258.0 507.0,259.0 508.4,272.0 510.0,287.0 511.0,281.0 512.0,288.0 513.2,295.0 514.4,264.0 515.6,276.0 517.0,260.0 518.4,258.0 520.4,248.0 522.4,252.0 524.4,253.0 526.4,258.0 529.0,253.0 531.0,251.0 532.4,253.0 534.4,250.0 536.4,247.0 538.0,234.0 539.0,211.0 541.0,208.4 543.0,206.0 544.4,203.0 546.0,204.0 548.0,209.0 550.0,203.0 552.0,203.6 554.0,206.4 556.4,196.0 558.4,195.6 560.4,202.0 562.4,204.0 565.0,194.0 566.4,195.0 568.0,184.0 569.0,170.0 571.0,169.0 572.4,164.0 574.4,163.6 576.0,172.2 578.0,166.4 580.0,166.4 582.0,165.6 584.0,168.0 586.0,166.0 587.6,156.0 589.6,155.6 591.6,153.0 593.6,140.0 595.0,135.6 597.0,151.0 599.6,146.0 602.0,143.6 604.0,145.0 606.0,150.0 608.0,157.0 610.0,164.0 612.0,161.0 614.4,156.0 616.0,156.4 618.0,160.0 619.6,166.0 621.0,174.0 622.4,160.0 624.4,159.0 626.4,152.0 628.0,142.0 629.6,139.6 631.0,141.0 632.4,149.0 634.0,164.0 636.0,157.0 638.0,157.0 640.0,155.0 641.6,152.4 643.0,160.0 645.0,162.0 647.0,161.0 649.0,166.0 651.0,174.0 652.6,177.0 654.4,159.0 657.0,153.0 659.0,151.0 662.0,152.0 664.0,149.0 666.0,147.4 667.6,152.0 669.4,157.0 671.0,148.0 673.0,142.6 675.0,148.0 677.0,146.0 679.0,144.0 681.0,147.0 683.0,141.0 684.4,131.0 685.6,112.0 688.0,111.0 689.6,113.0 691.6,106.0 693.0,104.0 694.4,110.0 696.0,112.0 698.0,106.6 700.0,110.0 702.4,113.0 705.0,114.0 707.0,110.0 708.6,104.0 710.6,109.0 712.4,111.0 714.0,113.0 716.0,110.0 718.0,106.0 719.6,111.0 722.0,111.0 724.0,116.0 726.0,123.0 727.6,128.0 729.0,131.0 730.6,124.0 732.4,121.0 734.0,124.0 736.0,118.0 737.6,111.0 739.6,116.6 741.6,113.0 743.6,106.0 745.0,108.0 747.0,104.0 748.4,97.0 749.4,91.4 750.6,103.0 752.0,110.0 754.0,112.6 756.4,113.0 758.0,116.0 760.0,127.0 761.6,124.0 763.6,131.0 765.0,122.0 766.4,116.0 768.0,121.0 770.0,129.0 772.0,139.0 773.6,135.0 775.6,135.0 776.8,131.0 778.0,139.0 779.6,146.0 781.6,145.0 783.0,147.4 784.4,144.0 785.6,137.4" fill="none" stroke="#141414" stroke-width="1.3" stroke-linejoin="round" stroke-linecap="round" clip-path="url(#nac)"/>
<polyline points="108.4,406.0 110.0,414.0 111.6,413.0 113.0,426.0 115.0,443.6 117.0,443.0 119.0,432.0 121.0,422.0 123.0,416.0 125.6,414.0 127.0,406.0 128.4,395.0 131.0,400.0 133.6,411.0 136.0,392.0 138.0,382.0 141.0,377.0 144.0,375.6 147.6,375.0 148.4,371.0 150.0,375.0 152.0,364.0 154.0,359.6 156.4,359.0 158.4,363.0 160.0,375.0 161.0,386.0 162.4,392.6 165.0,393.0 167.0,385.0 169.0,386.0 171.0,380.0 173.0,382.0 175.0,384.0 177.0,396.0 179.0,397.0 181.0,380.0 182.4,378.0 183.5,381.0 185.0,369.0 186.4,357.0 189.0,348.0 191.0,349.4 193.0,344.0 195.0,343.0 197.0,338.0 199.0,349.0 201.0,350.0 203.0,354.6 206.0,353.0 208.0,353.4 211.0,341.0 213.0,328.0 214.4,319.4 216.0,320.0 218.0,331.0 221.0,337.0 225.0,345.0 227.0,329.0 228.4,307.0 230.0,299.0 232.0,296.0 234.4,293.4 236.0,281.0 238.0,236.0 240.0,233.0 242.0,225.0 243.4,233.0 246.0,221.0 249.0,226.0 251.6,220.0 254.0,207.0 256.4,190.0 258.0,186.6 260.0,190.0 262.4,191.0 264.0,203.0 266.0,215.0 268.0,199.0 270.4,197.0 272.0,194.0 274.0,196.0 275.6,195.0 277.6,198.6 279.6,198.0 281.6,187.0 282.6,192.0 284.6,180.6 286.0,181.4 288.0,182.0 290.0,191.0 291.5,196.0 293.8,177.0 295.3,180.0 297.0,177.5 298.8,175.0 300.2,168.0 301.3,160.0 303.3,156.5 305.3,156.0 306.5,170.0 307.8,183.0 309.3,192.0 311.0,193.0 313.0,193.0 314.4,203.0 316.4,206.0 318.4,187.0 320.0,184.0 322.0,197.0 324.0,204.0 325.6,203.0 327.6,209.0 329.6,214.0 332.0,207.0 335.0,195.0 337.4,190.0 340.0,188.0 342.0,172.6 343.4,185.0 344.4,191.0 346.4,203.0 348.0,212.0 349.6,207.0 352.0,206.0 355.0,204.0 357.0,194.0 359.0,182.0 360.6,180.0 362.6,163.6 364.6,163.6 366.4,177.0 368.4,170.0 370.0,158.0 371.6,166.0 374.0,163.0 377.0,162.0 379.6,169.0 383.0,175.0 385.0,164.0 387.0,161.0 389.0,171.0 390.4,177.0 392.4,194.0 394.0,176.0 395.0,176.0 396.4,189.0 398.4,195.0 401.0,195.6 404.0,196.0 407.0,191.0 409.0,198.0 410.6,192.0 412.0,194.4 414.4,192.0 416.4,192.0 418.4,196.0 421.0,199.6 423.6,198.0 426.0,189.0 428.0,198.0 430.0,196.0 431.6,198.0 434.0,220.0 436.0,239.0 437.4,253.0 439.0,252.0 441.0,254.0 442.4,250.0 443.0,231.0 444.5,209.0 446.6,244.0 448.4,236.0 450.0,226.0 451.6,238.0 453.6,241.0 455.6,243.0 457.0,266.0 459.0,288.0 461.0,267.0 462.4,257.0 464.4,269.0 466.0,258.0 468.0,254.0 470.0,261.0 471.6,255.0 473.6,259.0 476.0,242.0 478.0,252.0 480.0,255.0 482.0,253.0 484.0,242.0 486.4,237.6 489.0,238.0 491.0,243.0 493.0,252.0 495.0,262.0 497.0,265.0 499.0,258.0 500.4,251.0 502.4,260.0 505.0,258.0 507.0,259.0 508.4,272.0 510.0,287.0 511.0,281.0 512.0,288.0 513.2,295.0 514.4,264.0 515.6,276.0 517.0,260.0 518.4,258.0 520.4,248.0 522.4,252.0 524.4,253.0 526.4,258.0 529.0,253.0 531.0,251.0 532.4,253.0 534.4,250.0 536.4,247.0 538.0,234.0 539.0,211.0 541.0,208.4 543.0,206.0 544.4,203.0 546.0,204.0 548.0,209.0 550.0,203.0 552.0,203.6 554.0,206.4 556.4,196.0 558.4,195.6 560.4,202.0 562.4,204.0 565.0,194.0 566.4,195.0 568.0,184.0 569.0,170.0 571.0,169.0 572.4,164.0 574.4,163.6 576.0,172.2 578.0,166.4 580.0,166.4 582.0,165.6 584.0,168.0 586.0,166.0 587.6,156.0 589.6,155.6 591.6,153.0 593.6,140.0 595.0,135.6 597.0,151.0 599.6,146.0 602.0,143.6 604.0,145.0 606.0,150.0 608.0,157.0 610.0,164.0 612.0,161.0 614.4,156.0 616.0,156.4 618.0,160.0 619.6,166.0 621.0,174.0 622.4,160.0 624.4,159.0 626.4,152.0 628.0,142.0 629.6,139.6 631.0,141.0 632.4,149.0 634.0,164.0 636.0,157.0 638.0,157.0 640.0,155.0 641.6,152.4 643.0,160.0 645.0,162.0 647.0,161.0 649.0,166.0 651.0,174.0 652.6,177.0 654.4,159.0 657.0,153.0 659.0,151.0 662.0,152.0 664.0,149.0 666.0,147.4 667.6,152.0 669.4,157.0 671.0,148.0 673.0,142.6 675.0,148.0 677.0,146.0 679.0,144.0 681.0,147.0 683.0,141.0 684.4,131.0 685.6,112.0 688.0,111.0 689.6,113.0 691.6,106.0 693.0,104.0 694.4,110.0 696.0,112.0 698.0,106.6 700.0,110.0 702.4,113.0 705.0,114.0 707.0,110.0 708.6,104.0 710.6,109.0 712.4,111.0 714.0,113.0 716.0,110.0 718.0,106.0 719.6,111.0 722.0,111.0 724.0,116.0 726.0,123.0 727.6,128.0 729.0,131.0 730.6,124.0 732.4,121.0 734.0,124.0 736.0,118.0 737.6,111.0 739.6,116.6 741.6,113.0 743.6,106.0 745.0,108.0 747.0,104.0 748.4,97.0 749.4,91.4 750.6,103.0 752.0,110.0 754.0,112.6 756.4,113.0 758.0,116.0 760.0,127.0 761.6,124.0 763.6,131.0 765.0,122.0 766.4,116.0 768.0,121.0 770.0,129.0 772.0,139.0 773.6,135.0 775.6,135.0 776.8,131.0 778.0,139.0 779.6,146.0 781.6,145.0 783.0,147.4 784.4,144.0 785.6,137.4" fill="none" stroke="#1a3380" stroke-width="1.3" stroke-linejoin="round" stroke-linecap="round" clip-path="url(#ac)"/>
<text x="358.2" y="283.6" font-size="35" font-weight="bold" text-anchor="start" fill="#000010" textLength="90.5" lengthAdjust="spacingAndGlyphs" fill-opacity="0.1">Crypto</text>
<text x="449.5" y="283.6" font-size="35" font-weight="bold" text-anchor="start" fill="#000010" textLength="86.5" lengthAdjust="spacingAndGlyphs" fill-opacity="0.1">Quant</text>
<line x1="103.5" x2="103.5" y1="73.4" y2="476.6" stroke="#5b46e6" stroke-width="1.6"/>
<line x1="791.2" x2="791.2" y1="73.4" y2="476.6" stroke="#7798ee" stroke-width="1.9"/>
<line x1="851.5" x2="851.5" y1="73.4" y2="476.6" stroke="#141414" stroke-width="1.5"/>
<text x="94.2" y="81.9" font-size="11" font-weight="normal" text-anchor="end" fill="#2a2a2a" textLength="30.4" lengthAdjust="spacingAndGlyphs" >3.65M</text>
<text x="94.2" y="119.1" font-size="11" font-weight="normal" text-anchor="end" fill="#2a2a2a" textLength="24.5" lengthAdjust="spacingAndGlyphs" >3.6M</text>
<text x="94.2" y="156.8" font-size="11" font-weight="normal" text-anchor="end" fill="#2a2a2a" textLength="30.4" lengthAdjust="spacingAndGlyphs" >3.55M</text>
<text x="94.2" y="195.0" font-size="11" font-weight="normal" text-anchor="end" fill="#2a2a2a" textLength="24.5" lengthAdjust="spacingAndGlyphs" >3.5M</text>
<text x="94.2" y="233.8" font-size="11" font-weight="normal" text-anchor="end" fill="#2a2a2a" textLength="30.4" lengthAdjust="spacingAndGlyphs" >3.45M</text>
<text x="94.2" y="273.1" font-size="11" font-weight="normal" text-anchor="end" fill="#2a2a2a" textLength="24.5" lengthAdjust="spacingAndGlyphs" >3.4M</text>
<text x="94.2" y="313.1" font-size="11" font-weight="normal" text-anchor="end" fill="#2a2a2a" textLength="30.4" lengthAdjust="spacingAndGlyphs" >3.35M</text>
<text x="94.2" y="353.6" font-size="11" font-weight="normal" text-anchor="end" fill="#2a2a2a" textLength="24.5" lengthAdjust="spacingAndGlyphs" >3.3M</text>
<text x="94.2" y="394.7" font-size="11" font-weight="normal" text-anchor="end" fill="#2a2a2a" textLength="30.4" lengthAdjust="spacingAndGlyphs" >3.25M</text>
<text x="94.2" y="436.5" font-size="11" font-weight="normal" text-anchor="end" fill="#2a2a2a" textLength="24.5" lengthAdjust="spacingAndGlyphs" >3.2M</text>
<text x="94.2" y="479.0" font-size="11" font-weight="normal" text-anchor="end" fill="#2a2a2a" textLength="30.4" lengthAdjust="spacingAndGlyphs" >3.15M</text>
<text x="800.7" y="98.3" font-size="11" font-weight="normal" text-anchor="start" fill="#2a2a2a" textLength="24.3" lengthAdjust="spacingAndGlyphs" >120K</text>
<text x="800.7" y="196.9" font-size="11" font-weight="normal" text-anchor="start" fill="#2a2a2a" textLength="18.4" lengthAdjust="spacingAndGlyphs" >60K</text>
<text x="800.7" y="295.3" font-size="11" font-weight="normal" text-anchor="start" fill="#2a2a2a" textLength="5.9" lengthAdjust="spacingAndGlyphs" >0</text>
<text x="800.7" y="394.0" font-size="11" font-weight="normal" text-anchor="start" fill="#2a2a2a" textLength="23.3" lengthAdjust="spacingAndGlyphs" >-60K</text>
<text x="861.4" y="106.7" font-size="11" font-weight="normal" text-anchor="start" fill="#2a2a2a" textLength="24.2" lengthAdjust="spacingAndGlyphs" >120K</text>
<text x="861.4" y="143.7" font-size="11" font-weight="normal" text-anchor="start" fill="#2a2a2a" textLength="24.2" lengthAdjust="spacingAndGlyphs" >110K</text>
<text x="861.4" y="184.1" font-size="11" font-weight="normal" text-anchor="start" fill="#2a2a2a" textLength="24.2" lengthAdjust="spacingAndGlyphs" >100K</text>
<text x="861.4" y="228.9" font-size="11" font-weight="normal" text-anchor="start" fill="#2a2a2a" textLength="18.4" lengthAdjust="spacingAndGlyphs" >90K</text>
<text x="861.4" y="278.9" font-size="11" font-weight="normal" text-anchor="start" fill="#2a2a2a" textLength="18.4" lengthAdjust="spacingAndGlyphs" >80K</text>
<text x="861.4" y="335.6" font-size="11" font-weight="normal" text-anchor="start" fill="#2a2a2a" textLength="18.4" lengthAdjust="spacingAndGlyphs" >70K</text>
<text x="861.4" y="401.1" font-size="11" font-weight="normal" text-anchor="start" fill="#2a2a2a" textLength="18.4" lengthAdjust="spacingAndGlyphs" >60K</text>
<text x="861.4" y="478.5" font-size="11" font-weight="normal" text-anchor="start" fill="#2a2a2a" textLength="18.4" lengthAdjust="spacingAndGlyphs" >50K</text>
<g transform="translate(24.9,274.0) rotate(-90)"><text x="0.0" y="3.0" font-size="11.6" font-weight="normal" text-anchor="middle" fill="#2a2a2a" textLength="177.0" lengthAdjust="spacingAndGlyphs" >Daily Balance Change (# of Bitcoin)</text></g>
<g transform="translate(52.3,274.0) rotate(-90)"><text x="0.0" y="3.0" font-size="11.6" font-weight="normal" text-anchor="middle" fill="#2a2a2a" textLength="134.0" lengthAdjust="spacingAndGlyphs" >Total Balance (# of Bitcoin)</text></g>
<g transform="translate(836.9,275.0) rotate(90)"><text x="0.0" y="3.0" font-size="11.6" font-weight="normal" text-anchor="middle" fill="#2a2a2a" textLength="187.6" lengthAdjust="spacingAndGlyphs" >30-day Balance Change (# of Bitcoin)</text></g>
<g transform="translate(896.3,275.0) rotate(90)"><text x="0.0" y="3.0" font-size="11.6" font-weight="normal" text-anchor="middle" fill="#2a2a2a" textLength="39.0" lengthAdjust="spacingAndGlyphs" >Price ($)</text></g>
<text x="127.5" y="33.7" font-size="17.3" font-weight="bold" text-anchor="start" fill="#141414" textLength="63.7" lengthAdjust="spacingAndGlyphs" >Bitcoin:</text>
<text x="198.1" y="33.7" font-size="17.3" font-weight="bold" text-anchor="start" fill="#141414" textLength="41.6" lengthAdjust="spacingAndGlyphs" >Total</text>
<text x="246.6" y="33.7" font-size="17.3" font-weight="bold" text-anchor="start" fill="#141414" textLength="65.2" lengthAdjust="spacingAndGlyphs" >Balance</text>
<text x="318.3" y="33.7" font-size="17.3" font-weight="bold" text-anchor="start" fill="#141414" textLength="30.6" lengthAdjust="spacingAndGlyphs" >and</text>
<text x="356.9" y="33.7" font-size="17.3" font-weight="bold" text-anchor="start" fill="#141414" textLength="64.6" lengthAdjust="spacingAndGlyphs" >Balance</text>
<text x="429.4" y="33.7" font-size="17.3" font-weight="bold" text-anchor="start" fill="#141414" textLength="61.9" lengthAdjust="spacingAndGlyphs" >Change</text>
<text x="498.6" y="33.7" font-size="17.3" font-weight="bold" text-anchor="start" fill="#141414" textLength="18.8" lengthAdjust="spacingAndGlyphs" >of</text>
<text x="523.3" y="33.7" font-size="17.3" font-weight="bold" text-anchor="start" fill="#141414" textLength="45.5" lengthAdjust="spacingAndGlyphs" >Large</text>
<text x="575.7" y="33.7" font-size="17.3" font-weight="bold" text-anchor="start" fill="#141414" textLength="67.2" lengthAdjust="spacingAndGlyphs" >Holders</text>
<text x="649.8" y="33.7" font-size="17.3" font-weight="bold" text-anchor="start" fill="#141414" textLength="68.2" lengthAdjust="spacingAndGlyphs" >(1K-10K</text>
<text x="726.3" y="33.7" font-size="17.3" font-weight="bold" text-anchor="start" fill="#141414" textLength="68.9" lengthAdjust="spacingAndGlyphs" >balance)</text>
<line x1="252.1" x2="265.3" y1="53.9" y2="53.9" stroke="#5b46e6" stroke-width="1.4"/>
<text x="269.0" y="57.2" font-size="11.6" font-weight="normal" text-anchor="start" fill="#2a2a2a" textLength="66.0" lengthAdjust="spacingAndGlyphs" >Total Balance</text>
<line x1="349.2" x2="361.8" y1="53.9" y2="53.9" stroke="#141414" stroke-width="1.4"/>
<text x="365.9" y="57.2" font-size="11.6" font-weight="normal" text-anchor="start" fill="#2a2a2a" textLength="61.6" lengthAdjust="spacingAndGlyphs" >Bitcoin Price</text>
<circle cx="448.5" cy="52.3" r="5.6" fill="#5f85ea"/>
<text x="458.7" y="57.2" font-size="11.6" font-weight="normal" text-anchor="start" fill="#2a2a2a" textLength="76.9" lengthAdjust="spacingAndGlyphs" >30-day Change</text>
<circle cx="556.5" cy="52.3" r="5.6" fill="#7a7a7a"/>
<text x="566.4" y="57.2" font-size="11.6" font-weight="normal" text-anchor="start" fill="#9a9a9a" textLength="103.3" lengthAdjust="spacingAndGlyphs" >_7d_balance_change</text>
<line x1="566.4" x2="669.7" y1="53.6" y2="53.6" stroke="#9a9a9a" stroke-width="0.9"/>
<text x="786.7" y="509.8" font-size="8.3" font-weight="normal" text-anchor="start" fill="#6a6a6a" textLength="115.3" lengthAdjust="spacingAndGlyphs" >© CryptoQuant. All rights reserved</text>
</svg>
</body></html>
